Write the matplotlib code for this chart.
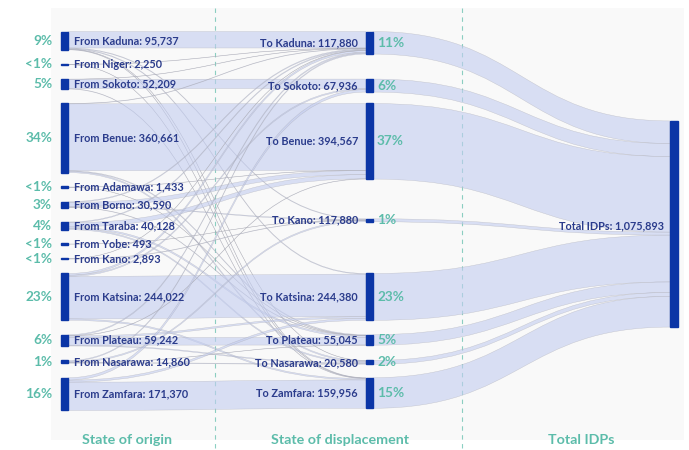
import matplotlib.pyplot as plt
from matplotlib.path import Path
from matplotlib.patches import PathPatch, Rectangle
import numpy as np

plt.rcParams['font.family'] = ['Lato', 'DejaVu Sans']

# ---- data -------------------------------------------------------------
origin_states = ['Kaduna', 'Niger', 'Sokoto', 'Benue', 'Adamawa', 'Borno', 'Taraba',
                 'Yobe', 'Kano', 'Katsina', 'Plateau', 'Nasarawa', 'Zamfara']
origin_idps = [95737, 2250, 52209, 360661, 1433, 30590, 40128,
               493, 2893, 244022, 59242, 14860, 171370]

dest_states = ['Kaduna', 'Sokoto', 'Benue', 'Kano', 'Katsina', 'Plateau', 'Nasarawa', 'Zamfara']
# numbers as printed on the chart (Kano's label repeats Kaduna's figure)
dest_labels = [117880, 67936, 394567, 117880, 244380, 55045, 20580, 159956]

total_idps = 1075893

# estimated flows, rows = state of origin, cols = state of displacement
flows = np.array([
    [86000,     0,      0, 3000,   3500,     0, 1237,   2000],   # Kaduna
    [1250,      0,      0,    0,      0,     0,    0,   1000],   # Niger
    [1209,  49000,      0,    0,      0,     0,    0,   2000],   # Sokoto
    [2000,      0, 349000,    0,      0,  3661, 6000,      0],   # Benue
    [0,         0,   1000,    0,      0,   433,    0,      0],   # Adamawa
    [4000,      0,  21000, 3590,      0,  2000,    0,      0],   # Borno
    [4128,      0,  22000,    0,      0,  8000, 6000,      0],   # Taraba
    [0,         0,      0,  493,      0,     0,    0,      0],   # Yobe
    [893,       0,      0, 2000,      0,     0,    0,      0],   # Kano
    [9000,   6022,      0,    0, 222000,     0,    0,   7000],   # Katsina
    [5000,      0,   1567,    0,   8375, 40000, 4300,      0],   # Plateau
    [4400,      0,      0, 6466,      0,   951, 3043,      0],   # Nasarawa
    [0,     12914,      0,    0,  10505,     0,    0, 147951],   # Zamfara
], dtype=float)

# ---- style ------------------------------------------------------------
node_col = '#0b35a6'
link_col = '#c3cdf0'
navy = '#2b3c8c'
teal = '#5cbcaa'

x_org, x_dst, x_tot = 61, 366, 670   # left edge of each node column (px)
node_w = 7
top, bottom = 31.5, 410.5
pad = 14.4

org_val = flows.sum(axis=1)
dst_val = flows.sum(axis=0)
scale = (bottom - top - pad * (len(org_val) - 1)) / org_val.sum()

fig = plt.figure(figsize=(6.89, 4.5), dpi=100)
ax = fig.add_axes([0, 0, 1, 1])
ax.set_xlim(0, 689)
ax.set_ylim(450, 0)
ax.axis('off')

ax.add_patch(Rectangle((51, 8), 633, 432, facecolor='#f9f9f9', edgecolor='none', zorder=0))
for xv in (215, 462):
    ax.plot([xv, xv], [8, 450], color=teal, lw=0.8, ls=(0, (4, 4)), alpha=0.7, zorder=1)

# ---- node layout ------------------------------------------------------
org_h = org_val * scale
org_top = top + np.concatenate([[0], np.cumsum(org_h + pad)[:-1]])

dst_h = dst_val * scale
dst_top = np.array([org_top[origin_states.index(s)] for s in dest_states])
# Kano has small inflows from scattered origins: sit it mid-way in the free gap
k = dest_states.index('Kano')
gap_lo = dst_top[k - 1] + dst_h[k - 1]
gap_hi = dst_top[k + 1]
dst_top[k] = (gap_lo + gap_hi) / 2 - dst_h[k] / 2 - 6

tot_h = dst_val.sum() * scale
tot_top = (top + bottom) / 2 - tot_h / 2 + 3

org_c = org_top + org_h / 2
dst_c = dst_top + dst_h / 2


def band(x0, y0a, y0b, x1, y1a, y1b):
    xm = (x0 + x1) / 2
    verts = [(x0, y0a), (xm, y0a), (xm, y1a), (x1, y1a), (x1, y1b),
             (xm, y1b), (xm, y0b), (x0, y0b), (x0, y0a)]
    codes = [Path.MOVETO, Path.CURVE4, Path.CURVE4, Path.CURVE4, Path.LINETO,
             Path.CURVE4, Path.CURVE4, Path.CURVE4, Path.CLOSEPOLY]
    ax.add_patch(PathPatch(Path(verts, codes), facecolor=link_col, alpha=0.6,
                           edgecolor='#a8a8b0', lw=0.3, zorder=2))


# ---- origin -> displacement links --------------------------------------
out_off = {}
for i in range(len(org_val)):
    y = org_top[i]
    for j in sorted(np.nonzero(flows[i])[0], key=lambda j: dst_c[j]):
        out_off[(i, j)] = y
        y += flows[i, j] * scale
in_off = {}
for j in range(len(dst_val)):
    y = dst_top[j]
    for i in sorted(np.nonzero(flows[:, j])[0], key=lambda i: org_c[i]):
        in_off[(i, j)] = y
        y += flows[i, j] * scale
for (i, j), y0 in out_off.items():
    h = flows[i, j] * scale
    y1 = in_off[(i, j)]
    band(x_org + node_w, y0, y0 + h, x_dst, y1, y1 + h)

# ---- displacement -> total links --------------------------------------
y = tot_top
for j in range(len(dst_val)):
    band(x_dst + node_w, dst_top[j], dst_top[j] + dst_h[j], x_tot, y, y + dst_h[j])
    y += dst_h[j]


def pct(v):
    p = v / total_idps * 100
    return '<1%' if p < 1 else f'{p:.0f}%'


# ---- nodes and labels -------------------------------------------------
for i, s in enumerate(origin_states):
    h = max(org_h[i], 1.3)
    ax.add_patch(Rectangle((x_org, org_c[i] - h / 2), node_w, h, color=node_col, zorder=4))
    ax.text(x_org + 13, org_c[i], f'From {s}: {origin_idps[i]:,}', ha='left', va='center',
            fontsize=7.8, fontweight='bold', color=navy, zorder=5)
    ax.text(52, org_c[i], pct(origin_idps[i]), ha='right', va='center',
            fontsize=9.8, fontweight='bold', color=teal, zorder=5)

for j, s in enumerate(dest_states):
    h = max(dst_h[j], 1.3)
    ax.add_patch(Rectangle((x_dst, dst_c[j] - h / 2), node_w, h, color=node_col, zorder=4))
    ax.text(x_dst - 8, dst_c[j], f'To {s}: {dest_labels[j]:,}', ha='right', va='center',
            fontsize=7.8, fontweight='bold', color=navy, zorder=5)
    ax.text(x_dst + node_w + 4, dst_c[j], pct(dst_val[j]), ha='left', va='center',
            fontsize=9.8, fontweight='bold', color=teal, zorder=5)

ax.add_patch(Rectangle((x_tot, tot_top), node_w + 1, tot_h, color=node_col, zorder=4))
ax.text(x_tot - 6, tot_top + tot_h / 2 + 2, f'Total IDPs: {total_idps:,}', ha='right',
        va='center', fontsize=7.8, fontweight='bold', color=navy, zorder=5)

for xc, t in [(127, 'State of origin'), (340, 'State of displacement'), (581, 'Total IDPs')]:
    ax.text(xc, 440, t, ha='center', va='center', fontsize=10.3, fontweight='bold', color=teal)

fig.savefig('out.png', dpi=100)
